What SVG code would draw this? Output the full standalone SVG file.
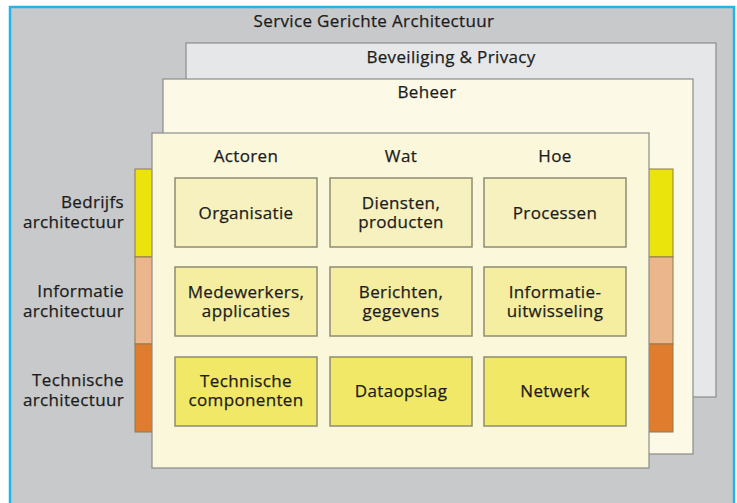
<svg xmlns="http://www.w3.org/2000/svg" width="737" height="503" viewBox="0 0 737 503">
  <style>
    text { font-family: "Open Sans", "Noto Sans", "DejaVu Sans", sans-serif; font-size: 17px; letter-spacing: 0.35px; fill: #1c1c1c; stroke: #1c1c1c; stroke-width: 0.25; }
    .mid { text-anchor: middle; }
    .end { text-anchor: end; }
    .layer { stroke: #8c8c8c; stroke-width: 1.2; }
    .cell { stroke: #8e8c76; stroke-width: 1.5; }
    .bar { stroke: #8c7a50; stroke-width: 1; }
  </style>

  <!-- page background and frame -->
  <rect x="0" y="0" width="737" height="503" fill="#ffffff"/>
  <g id="soa">
    <rect x="10" y="7" width="724" height="510" fill="#c8c9cb" stroke="#22b5ea" stroke-width="2.5"/>
    <text class="mid" x="374" y="27">Service Gerichte Architectuur</text>
  </g>

  <!-- stacked layers -->
  <g id="beveiliging">
    <rect class="layer" x="186" y="43" width="530" height="354" fill="#e6e7e9"/>
    <text class="mid" x="451" y="63">Beveiliging &amp; Privacy</text>
  </g>
  <g id="beheer">
    <rect class="layer" x="163" y="79" width="530" height="375" fill="#fdf9e7"/>
    <text class="mid" x="427" y="98">Beheer</text>
  </g>

  <!-- architecture bands -->
  <g id="bands">
    <rect class="bar" x="135" y="169" width="538" height="88" fill="#ebe30c"/>
    <rect class="bar" x="135" y="257" width="538" height="87" fill="#ecb68c"/>
    <rect class="bar" x="135" y="344" width="538" height="88" fill="#e07c2e"/>
  </g>
  <g id="band-labels">
    <text class="end" x="124" y="208">Bedrijfs<tspan x="124" dy="20">architectuur</tspan></text>
    <text class="end" x="124" y="297">Informatie<tspan x="124" dy="20">architectuur</tspan></text>
    <text class="end" x="124" y="386">Technische<tspan x="124" dy="20">architectuur</tspan></text>
  </g>

  <!-- matrix panel -->
  <g id="matrix">
    <rect class="layer" x="152" y="133" width="497" height="335" fill="#faf7da"/>
    <text class="mid" x="246" y="162">Actoren</text>
    <text class="mid" x="401" y="162">Wat</text>
    <text class="mid" x="555" y="162">Hoe</text>
  </g>

  <g id="organisatie">
    <rect class="cell" x="175" y="178" width="142" height="69" fill="#f7f1bf"/>
    <text class="mid" x="246" y="219">Organisatie</text>
  </g>
  <g id="diensten">
    <rect class="cell" x="330" y="178" width="142" height="69" fill="#f7f1bf"/>
    <text class="mid" x="401" y="209">Diensten,<tspan x="401" dy="19">producten</tspan></text>
  </g>
  <g id="processen">
    <rect class="cell" x="484" y="178" width="142" height="69" fill="#f7f1bf"/>
    <text class="mid" x="555" y="219">Processen</text>
  </g>

  <g id="medewerkers">
    <rect class="cell" x="175" y="267" width="142" height="69" fill="#f5ed9f"/>
    <text class="mid" x="246" y="298">Medewerkers,<tspan x="246" dy="19">applicaties</tspan></text>
  </g>
  <g id="berichten">
    <rect class="cell" x="330" y="267" width="142" height="69" fill="#f5ed9f"/>
    <text class="mid" x="401" y="298">Berichten,<tspan x="401" dy="19">gegevens</tspan></text>
  </g>
  <g id="informatie-uitwisseling">
    <rect class="cell" x="484" y="267" width="142" height="69" fill="#f5ed9f"/>
    <text class="mid" x="555" y="298">Informatie-<tspan x="555" dy="19">uitwisseling</tspan></text>
  </g>

  <g id="technische-componenten">
    <rect class="cell" x="175" y="357" width="142" height="69" fill="#f2e867"/>
    <text class="mid" x="246" y="387">Technische<tspan x="246" dy="19">componenten</tspan></text>
  </g>
  <g id="dataopslag">
    <rect class="cell" x="330" y="357" width="142" height="69" fill="#f2e867"/>
    <text class="mid" x="401" y="397">Dataopslag</text>
  </g>
  <g id="netwerk">
    <rect class="cell" x="484" y="357" width="142" height="69" fill="#f2e867"/>
    <text class="mid" x="555" y="397">Netwerk</text>
  </g>

  <!-- no connectors in this diagram -->
  <g id="connectors"/>
</svg>
